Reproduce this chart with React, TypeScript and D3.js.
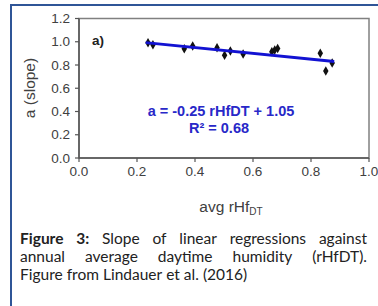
import React, { useEffect, useRef } from "react";
import * as d3 from "d3";

const xTicks = [0, 0.2, 0.4, 0.6, 0.8, 1.0];
const yTicks = [0, 0.2, 0.4, 0.6, 0.8, 1.0, 1.2];
const rhf = [0.238, 0.255, 0.363, 0.392, 0.476, 0.502, 0.522, 0.566, 0.665, 0.675, 0.685, 0.832, 0.851, 0.873];
const slope = [0.992, 0.975, 0.94, 0.963, 0.949, 0.884, 0.92, 0.895, 0.915, 0.93, 0.942, 0.902, 0.748, 0.818];
const fitA = -0.25;
const fitB = 1.05;
const fitRange = [0.23, 0.88];
const captionLines = [
  [{ t: "Figure", b: true }, { t: "3:", b: true }, { t: "Slope" }, { t: "of" }, { t: "linear" }, { t: "regressions" }, { t: "against" }],
  [{ t: "annual" }, { t: "average" }, { t: "daytime" }, { t: "humidity" }, { t: "(rHfDT)." }],
  [{ t: "Figure" }, { t: "from" }, { t: "Lindauer" }, { t: "et" }, { t: "al." }, { t: "(2016)" }],
];

export default function App() {
  const ref = useRef<SVGSVGElement>(null);
  useEffect(() => {
    const svg = d3.select(ref.current);
    svg.selectAll("*").remove();
    const W = 378, H = 306;
    const x = d3.scaleLinear().domain([0, 1]).range([79, 369]);
    const y = d3.scaleLinear().domain([0, 1.2]).range([158, 18.5]);

    svg.append("rect").attr("x", 0).attr("y", 0).attr("width", W).attr("height", H).attr("fill", "#fff");
    svg.append("path").attr("d", `M11,306 V5 H378`).attr("fill", "none").attr("stroke", "#2f5597").attr("stroke-width", 2);

    svg.append("rect").attr("x", x(0)).attr("y", y(1.2)).attr("width", x(1) - x(0)).attr("height", y(0) - y(1.2))
      .attr("fill", "#fff").attr("stroke", "#808080").attr("stroke-width", 1.5);
    svg.append("line").attr("x1", x(0)).attr("x2", x(0)).attr("y1", y(1.2)).attr("y2", y(0)).attr("stroke", "#555").attr("stroke-width", 1.5);
    svg.append("line").attr("x1", x(0)).attr("x2", x(1)).attr("y1", y(0)).attr("y2", y(0)).attr("stroke", "#555").attr("stroke-width", 1.5);

    const font = "Liberation Sans, Arial, sans-serif";
    yTicks.forEach((v) => {
      svg.append("line").attr("x1", x(0) - 4).attr("x2", x(0)).attr("y1", y(v)).attr("y2", y(v)).attr("stroke", "#555").attr("stroke-width", 1.2);
      svg.append("text").attr("x", 70).attr("y", y(v) + 4.7).attr("text-anchor", "end")
        .attr("font-family", font).attr("font-size", 13.5).attr("fill", "#404040").text(v.toFixed(1));
    });
    xTicks.forEach((v) => {
      svg.append("line").attr("x1", x(v)).attr("x2", x(v)).attr("y1", y(0)).attr("y2", y(0) + 4).attr("stroke", "#555").attr("stroke-width", 1.2);
      svg.append("text").attr("x", x(v)).attr("y", 176).attr("text-anchor", "middle")
        .attr("font-family", font).attr("font-size", 13.5).attr("fill", "#404040").text(v.toFixed(1));
    });

    svg.append("text").attr("transform", `translate(35,88) rotate(-90)`).attr("text-anchor", "middle")
      .attr("font-family", font).attr("font-size", 15.5).attr("fill", "#404040").text("a (slope)");
    const xl = svg.append("text").attr("x", 231).attr("y", 212).attr("text-anchor", "middle")
      .attr("font-family", font).attr("font-size", 15.5).attr("fill", "#404040");
    xl.append("tspan").text("avg rHf");
    xl.append("tspan").attr("font-size", 10).attr("dy", 3).text("DT");

    svg.append("text").attr("x", 92).attr("y", 45).attr("font-family", font).attr("font-weight", "bold")
      .attr("font-size", 13.5).attr("fill", "#222").text("a)");

    const sym = d3.symbol().type(d3.symbolDiamond).size(26);
    rhf.forEach((v, i) => {
      svg.append("path").attr("d", sym()!).attr("transform", `translate(${x(v)},${y(slope[i])})`).attr("fill", "#111");
    });

    svg.append("line")
      .attr("x1", x(fitRange[0])).attr("y1", y(fitA * fitRange[0] + fitB))
      .attr("x2", x(fitRange[1])).attr("y2", y(fitA * fitRange[1] + fitB))
      .attr("stroke", "#1212d2").attr("stroke-width", 2.8);

    svg.append("text").attr("x", 221).attr("y", 116).attr("text-anchor", "middle").attr("font-family", font)
      .attr("font-weight", "bold").attr("font-size", 14.5).attr("fill", "#2828c8").text("a = -0.25 rHfDT + 1.05");
    svg.append("text").attr("x", 219).attr("y", 133).attr("text-anchor", "middle").attr("font-family", font)
      .attr("font-weight", "bold").attr("font-size", 14.5).attr("fill", "#2828c8").text("R² = 0.68");

    const cfont = "Lato, sans-serif";
    const left = 20, right = 367;
    const baselines = [244, 262, 280];
    captionLines.forEach((words, li) => {
      const nodes = words.map((w) =>
        svg.append("text").attr("y", baselines[li]).attr("font-family", cfont).attr("font-size", 15.5)
          .attr("font-weight", w.b ? "bold" : "normal").attr("fill", "#222").text(w.t)
      );
      const widths = nodes.map((n) => (n.node() as SVGTextElement).getComputedTextLength());
      const total = d3.sum(widths);
      const justify = li < 2;
      const gap = justify ? (right - left - total) / (words.length - 1) : 4;
      let cx = left;
      nodes.forEach((n, i) => {
        n.attr("x", cx);
        cx += widths[i] + gap;
      });
    });
  }, []);
  return <svg ref={ref} width={378} height={306} style={{ position: "absolute", left: 0, top: 0 }} />;
}
